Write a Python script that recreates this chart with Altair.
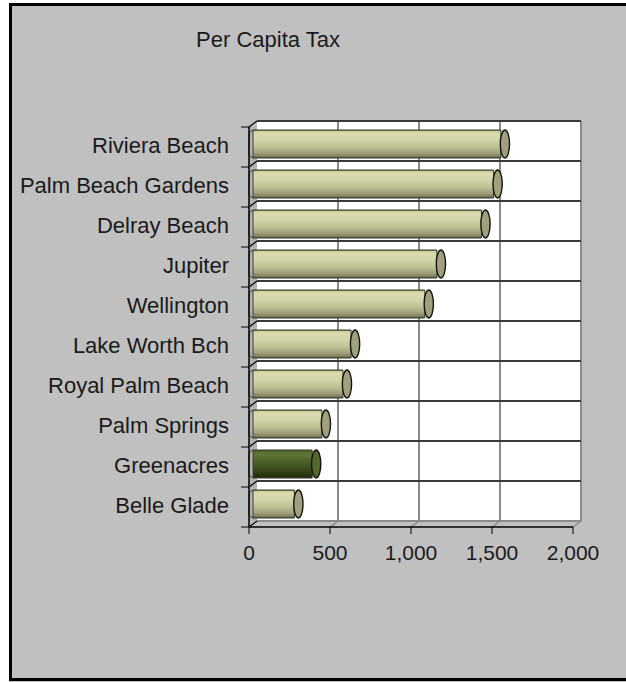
import altair as alt
import pandas as pd

# ---- data ----
cities = ["Riviera Beach", "Palm Beach Gardens", "Delray Beach", "Jupiter",
          "Wellington", "Lake Worth Bch", "Royal Palm Beach", "Palm Springs",
          "Greenacres", "Belle Glade"]
tax = [1555, 1510, 1435, 1160, 1085, 630, 580, 450, 390, 280]
highlight = ["Greenacres"]
x_ticks = [0, 500, 1000, 1500, 2000]
x_tick_labels = ["0", "500", "1,000", "1,500", "2,000"]
title_text = "Per Capita Tax"

# ---- layout constants ----
W, H = 324, 400
PAD = {"left": 249, "top": 127, "right": 53, "bottom": 155}
DX, DY = 8, -6          # 3-D depth shift of the back wall
FONT = "Liberation Sans"
TXT = "#1a1a1a"

n = len(cities)
df = pd.DataFrame({"city": cities, "tax": tax})
df["row"] = [n - 1 - i + 0.5 for i in range(n)]
df["hl"] = df["city"].isin(highlight)

bounds = pd.DataFrame({"b": list(range(n + 1))})
grid = pd.DataFrame({"t": x_ticks, "lab": x_tick_labels})
one = pd.DataFrame({"x0": [x_ticks[0]], "x1": [x_ticks[-1]], "y0": [0], "y1": [n]})

xs = alt.Scale(domain=[x_ticks[0], x_ticks[-1]], nice=False, zero=True, padding=0)
ys = alt.Scale(domain=[0, n], nice=False, zero=True, padding=0)

X = alt.X("tax:Q", scale=xs, axis=None)
Y = alt.Y("row:Q", scale=ys, axis=None)

L, T = PAD["left"], PAD["top"]

# white margin outside the framed box, and the black frame lines
margin_l = alt.Chart(one).mark_rect(fill="white").encode(
    x=alt.value(-L), x2=alt.value(9 - L), y=alt.value(-T), y2=alt.value(682 - T))
margin_t = alt.Chart(one).mark_rect(fill="white").encode(
    x=alt.value(-L), x2=alt.value(626 - L), y=alt.value(-T), y2=alt.value(3 - T))
border_v = alt.Chart(one).mark_rule(color="black", strokeWidth=3).encode(
    x=alt.value(10.5 - L), y=alt.value(3 - T), y2=alt.value(681 - T))
border_t = alt.Chart(one).mark_rule(color="black", strokeWidth=3).encode(
    y=alt.value(4.5 - T), x=alt.value(9 - L), x2=alt.value(626 - L))
border_b = alt.Chart(one).mark_rule(color="black", strokeWidth=3).encode(
    y=alt.value(679.5 - T), x=alt.value(9 - L), x2=alt.value(626 - L))

# left wall shading
lwall = alt.Chart(one).mark_rect(fill="#b2b2b2", x2Offset=DX, yOffset=DY).encode(
    x=alt.X("x0:Q", scale=xs, axis=None), x2=alt.X2("x0"),
    y=alt.Y("y0:Q", scale=ys, axis=None), y2=alt.Y2("y1"))

# back wall
wall = alt.Chart(one).mark_rect(fill="white", xOffset=DX, x2Offset=DX,
                                yOffset=DY, y2Offset=DY).encode(
    x=alt.X("x0:Q", scale=xs, axis=None), x2=alt.X2("x1"),
    y=alt.Y("y0:Q", scale=ys, axis=None), y2=alt.Y2("y1"))

vgrid = alt.Chart(grid).transform_filter("datum.t > 0").transform_calculate(
    y0="0", y1=str(n)).mark_rule(
    color="#8a8a8a", strokeWidth=2, xOffset=DX, yOffset=DY, y2Offset=DY).encode(
    x=alt.X("t:Q", scale=xs, axis=None),
    y=alt.Y("y0:Q", scale=ys, axis=None), y2=alt.Y2("y1"))

hgrid = alt.Chart(bounds).transform_calculate(
    x0=str(x_ticks[0]), x1=str(x_ticks[-1])).mark_rule(
    xOffset=DX, x2Offset=DX, yOffset=DY, strokeWidth=2).encode(
    y=alt.Y("b:Q", scale=ys, axis=None),
    x=alt.X("x0:Q", scale=xs, axis=None), x2=alt.X2("x1"),
    color=alt.condition("datum.b > 0", alt.value("#3a3a3a"), alt.value("#8a8a8a")))

ldiag = alt.Chart(bounds).transform_calculate(x0=str(x_ticks[0])).mark_rule(
    color="black", strokeWidth=1.2, x2Offset=DX, y2Offset=DY).encode(
    x=alt.X("x0:Q", scale=xs, axis=None), x2=alt.X2("x0"),
    y=alt.Y("b:Q", scale=ys, axis=None), y2=alt.Y2("b"))

fdiag = alt.Chart(grid).transform_filter("datum.t > 0").transform_calculate(
    y0="0").mark_rule(color="#8a8a8a", strokeWidth=1.5, x2Offset=DX, y2Offset=DY).encode(
    x=alt.X("t:Q", scale=xs, axis=None), x2=alt.X2("t"),
    y=alt.Y("y0:Q", scale=ys, axis=None), y2=alt.Y2("y0"))

# ---- axes drawn from the scales ----
y_domain = alt.Chart(one).mark_rule(color="black", strokeWidth=1.5).encode(
    x=alt.X("x0:Q", scale=xs, axis=None),
    y=alt.Y("y0:Q", scale=ys, axis=None), y2=alt.Y2("y1"))
x_domain = alt.Chart(one).mark_rule(color="black", strokeWidth=1.5).encode(
    y=alt.Y("y0:Q", scale=ys, axis=None),
    x=alt.X("x0:Q", scale=xs, axis=None), x2=alt.X2("x1"))
y_ticks = alt.Chart(bounds).transform_calculate(x0=str(x_ticks[0])).mark_rule(
    color="black", strokeWidth=1, xOffset=-8).encode(
    x=alt.X("x0:Q", scale=xs, axis=None), x2=alt.X2("x0"),
    y=alt.Y("b:Q", scale=ys, axis=None))
x_tickmarks = alt.Chart(grid).transform_calculate(y0="0").mark_rule(
    color="black", strokeWidth=1, y2Offset=7).encode(
    x=alt.X("t:Q", scale=xs, axis=None),
    y=alt.Y("y0:Q", scale=ys, axis=None), y2=alt.Y2("y0"))
y_labels = alt.Chart(df).transform_calculate(x0=str(x_ticks[0])).mark_text(
    font=FONT, fontSize=22, color=TXT, align="right", baseline="middle",
    xOffset=-20, yOffset=-1).encode(
    x=alt.X("x0:Q", scale=xs, axis=None), y=Y, text="city:N")
x_labels = alt.Chart(grid).transform_calculate(y0="0").mark_text(
    font=FONT, fontSize=21, color=TXT, align="center", baseline="alphabetic",
    yOffset=33).encode(
    x=alt.X("t:Q", scale=xs, axis=None),
    y=alt.Y("y0:Q", scale=ys, axis=None), text="lab:N")


def grad(stops):
    return {"gradient": "linear", "x1": 0, "y1": 0, "x2": 0, "y2": 1,
            "stops": [{"offset": o, "color": c} for o, c in stops]}


light = grad([(0, "#c4c597"), (0.12, "#d9dab0"), (0.35, "#d4d5a8"),
              (0.6, "#bfc094"), (0.82, "#a0a07c"), (1, "#6e6e54")])
green = grad([(0, "#4e6228"), (0.15, "#607738"), (0.4, "#4e6228"),
              (0.7, "#3a4a1a"), (1, "#20290b")])

bar_kw = dict(orient="horizontal", height=28, yOffset=-3, xOffset=4,
              cornerRadiusTopLeft=5, cornerRadiusBottomLeft=5,
              stroke="#3c3c2c", strokeWidth=1)
bars = alt.Chart(df).transform_filter("!datum.hl").mark_bar(fill=light, **bar_kw).encode(
    x=X, y=Y)
bars_hl = alt.Chart(df).transform_filter("datum.hl").mark_bar(fill=green, **bar_kw).encode(
    x=X, y=Y)

ELLIPSE = "M0,-1A0.33,1,0,1,1,0,1A0.33,1,0,1,1,0,-1Z"
cap_kw = dict(shape=ELLIPSE, size=784, filled=True, opacity=1, stroke="#151510",
              strokeWidth=1.4, xOffset=4, yOffset=-3)
caps = alt.Chart(df).transform_filter("!datum.hl").mark_point(fill="#a0a07c", **cap_kw).encode(
    x=X, y=Y)
caps_hl = alt.Chart(df).transform_filter("datum.hl").mark_point(fill="#55682c", **cap_kw).encode(
    x=X, y=Y)

title = alt.Chart(one).mark_text(text=title_text, font=FONT, fontSize=22, color=TXT,
                                 align="center", baseline="alphabetic").encode(
    x=alt.value(268 - L), y=alt.value(47 - T))

chart = alt.layer(margin_l, margin_t, border_v, border_t, border_b,
                  lwall, wall, vgrid, hgrid, ldiag, fdiag,
                  bars, bars_hl, caps, caps_hl,
                  y_domain, x_domain, y_ticks, x_tickmarks, y_labels, x_labels,
                  title).properties(
    width=W, height=H, padding=PAD,
    autosize=alt.AutoSizeParams(type="none"),
    background="#C0C0C0",
).configure_view(stroke=None)

chart.save("out.html", embed_options={"renderer": "svg", "actions": False})
